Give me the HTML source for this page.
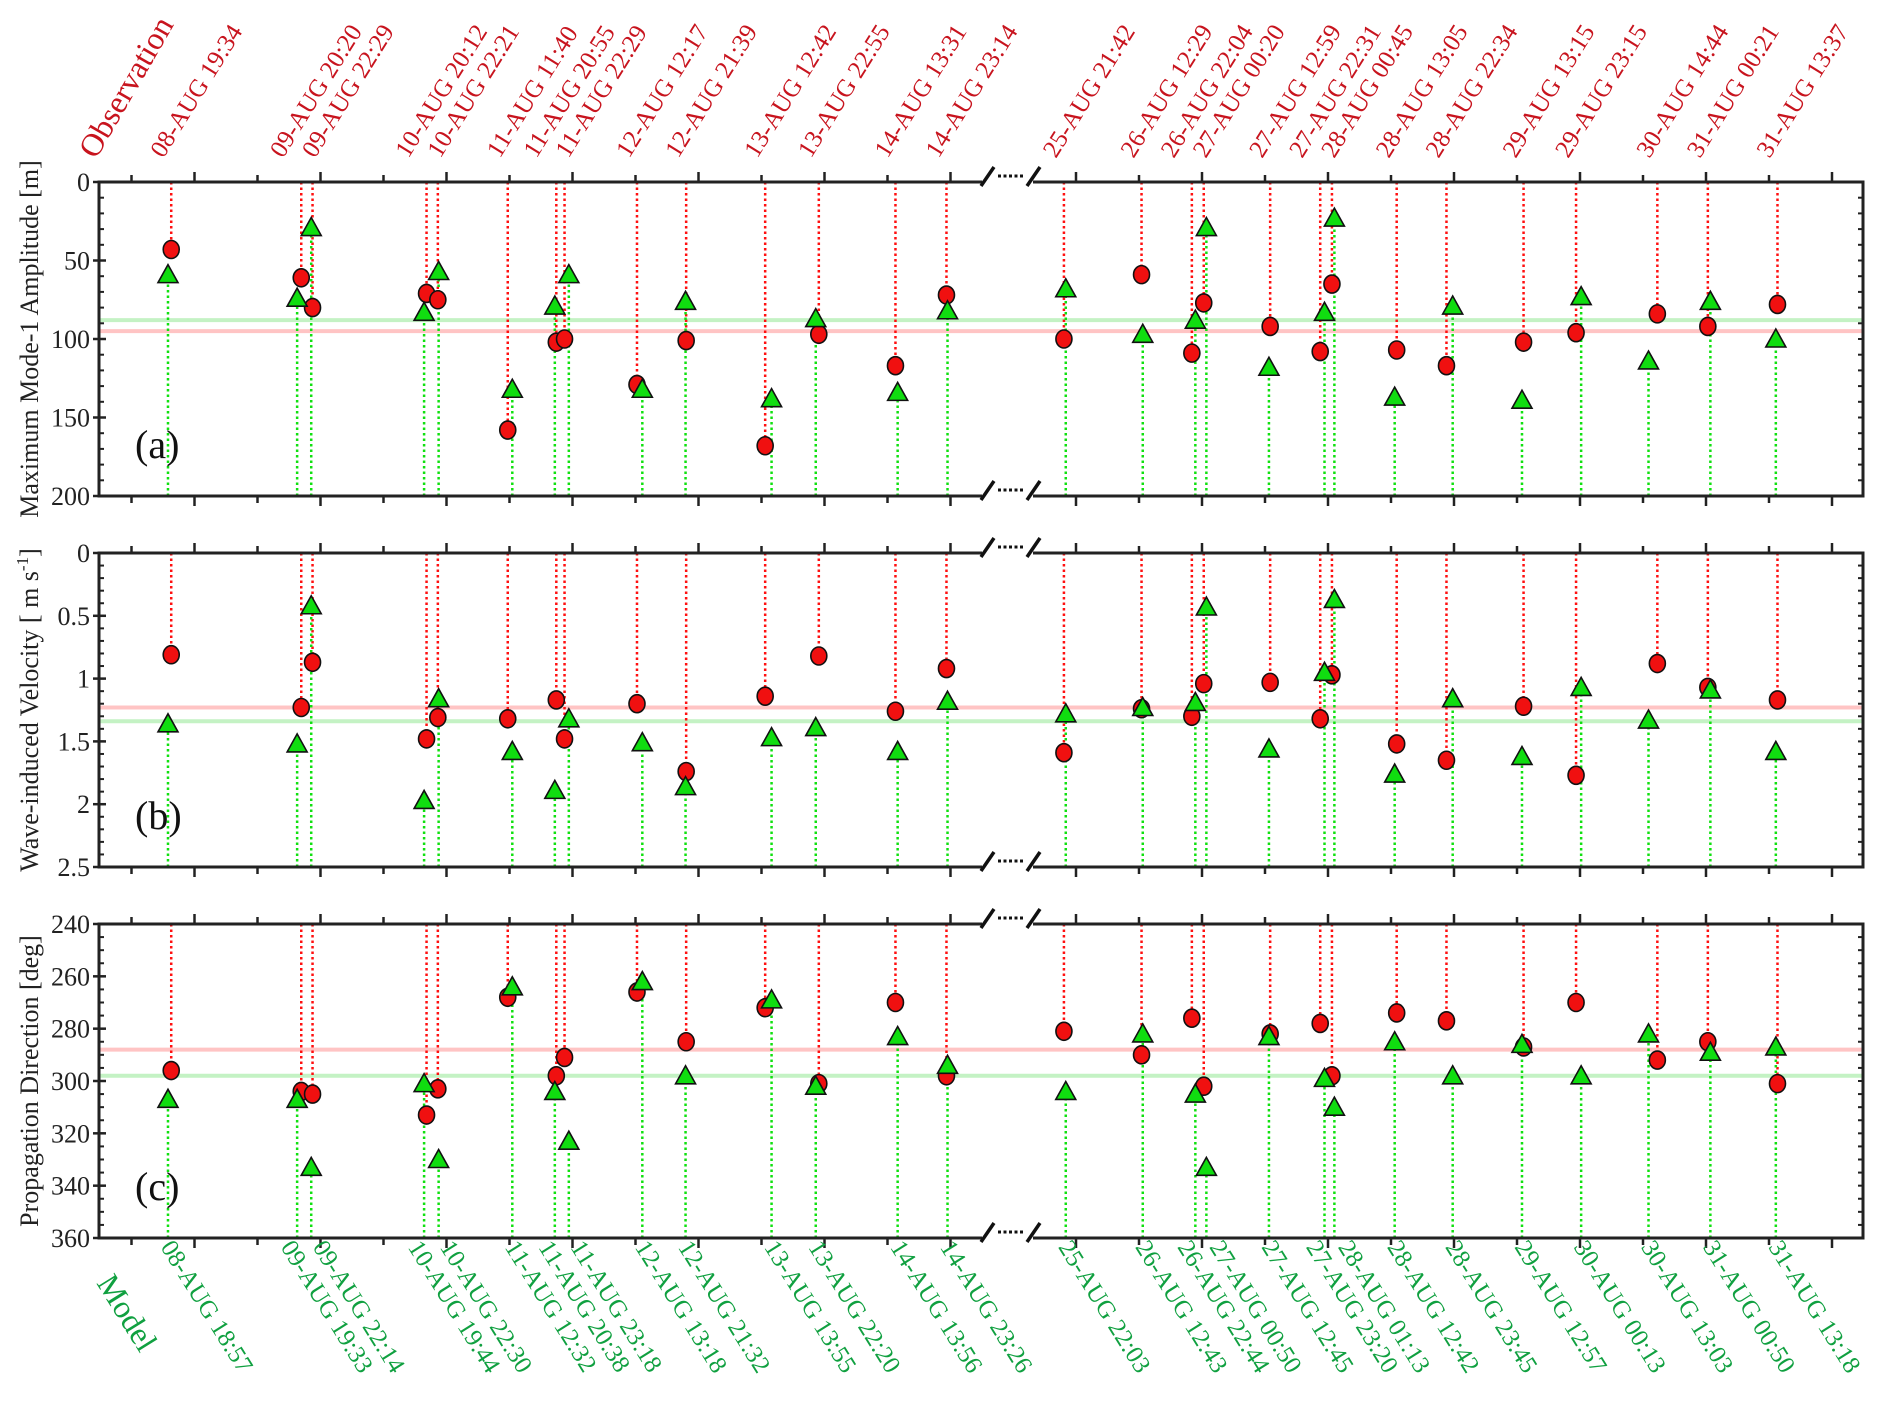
<!DOCTYPE html>
<html><head><meta charset="utf-8"><style>
html,body{margin:0;padding:0;background:#fff}
svg text{font-family:"Liberation Serif",serif}
</style></head><body>
<svg id="chart" width="1892" height="1402" viewBox="0 0 1892 1402" xmlns="http://www.w3.org/2000/svg"></svg>
<script>
const obsTimes=["08 19:34","09 20:20","09 22:29","10 20:12","10 22:21","11 11:40","11 20:55","11 22:29","12 12:17","12 21:39","13 12:42","13 22:55","14 13:31","14 23:14","25 21:42","26 12:29","26 22:04","27 00:20","27 12:59","27 22:31","28 00:45","28 13:05","28 22:34","29 13:15","29 23:15","30 14:44","31 00:21","31 13:37"];
const modTimes=["08 18:57","09 19:33","09 22:14","10 19:44","10 22:30","11 12:32","11 20:38","11 23:18","12 13:18","12 21:32","13 13:55","13 22:20","14 13:56","14 23:26","25 22:03","26 12:43","26 22:44","27 00:50","27 12:45","27 23:20","28 01:13","28 12:42","28 23:45","29 12:57","30 00:13","30 13:03","31 00:50","31 13:18"];
const obsAmp=[43,61,80,71,75,158,102,100,129,101,168,97,117,72,100,59,109,77,92,108,65,107,117,102,96,84,92,78];
const modAmp=[59,74,29,83,57,132,79,59,132,76,138,87,134,82,68,97,88,29,118,83,23,137,79,139,73,114,76,100];
const obsVel=[0.81,1.23,0.87,1.48,1.31,1.32,1.17,1.48,1.20,1.74,1.14,0.82,1.26,0.92,1.59,1.24,1.30,1.04,1.03,1.32,0.97,1.52,1.65,1.22,1.77,0.88,1.07,1.17];
const modVel=[1.36,1.52,0.42,1.97,1.16,1.58,1.89,1.32,1.51,1.86,1.47,1.39,1.58,1.18,1.28,1.23,1.19,0.43,1.56,0.95,0.37,1.76,1.16,1.62,1.07,1.33,1.09,1.58];
const obsDir=[296,304,305,313,303,268,298,291,266,285,272,301,270,298,281,290,276,302,282,278,298,274,277,287,270,292,285,301];
const modDir=[307,307,333,301,330,264,304,323,262,298,269,302,283,294,304,282,305,333,283,299,310,285,298,286,298,282,289,287];
const obsMean=[95,1.23,288];
const modMean=[88,1.34,298];
const yTicks=[[0,50,100,150,200],[0,0.5,1,1.5,2,2.5],[240,260,280,300,320,340,360]];
const yLabels=[["0","50","100","150","200"],["0","0.5","1","1.5","2","2.5"],["240","260","280","300","320","340","360"]];
const svg=document.getElementById('chart');
const NS='http://www.w3.org/2000/svg';
function mk(tag,attrs,parent){const e=document.createElementNS(NS,tag);for(const k in attrs)e.setAttribute(k,attrs[k]);(parent||svg).appendChild(e);return e;}
function tDay(s){const d=parseInt(s.slice(0,2)),h=parseInt(s.slice(3,5)),m=parseInt(s.slice(6,8));return d+(h+m/60)/24;}
function X(t){return t<20?194.5+(t-9)*126:1076+(t-26)*126;}
function labelX(times){
  const xs=times.map(s=>X(tDay(s)));const out=xs.map(x=>x-8);
  for(let i=0;i<xs.length-1;i++){if(xs[i+1]-xs[i]<22){const mid=(xs[i]+xs[i+1])/2-8;out[i]=mid-16;out[i+1]=mid+16;i++;}}
  return out;}
const L=99,R=1863;
const panels=[{top:182,bot:496,min:0,max:200,minor:10,name:"amplitude",title:"Maximum Mode-1 Amplitude [m]",tag:"(a)",obs:obsAmp,mod:modAmp},
{top:553,bot:867,min:0,max:2.5,minor:0.1,name:"velocity",title:"",tag:"(b)",obs:obsVel,mod:modVel},
{top:924,bot:1238,min:240,max:360,minor:5,name:"direction",title:"Propagation Direction [deg]",tag:"(c)",obs:obsDir,mod:modDir}];
panels.forEach((p,pi)=>{
  const g=mk('g',{});
  
  
  const Y=v=>p.top+(v-p.min)/(p.max-p.min)*(p.bot-p.top);
  let ml=mk('line',{x1:L,x2:R,y1:Y(modMean[pi]),y2:Y(modMean[pi]),stroke:'#c4f2c4','stroke-width':4},g);
  
  ml=mk('line',{x1:L,x2:R,y1:Y(obsMean[pi]),y2:Y(obsMean[pi]),stroke:'#ffc4c4','stroke-width':4},g);
  
  obsTimes.forEach((s,i)=>{const x=X(tDay(s));const l=mk('line',{x1:x,x2:x,y1:p.top,y2:Y(p.obs[i]),stroke:'#ff1010','stroke-width':2.5,'stroke-dasharray':'2.5 3'},g);
    });
  modTimes.forEach((s,i)=>{const x=X(tDay(s));const l=mk('line',{x1:x,x2:x,y1:p.bot,y2:Y(p.mod[i]),stroke:'#10e010','stroke-width':2.5,'stroke-dasharray':'2.5 3'},g);
    });
  [p.top,p.bot].forEach(yy=>{
    let a=mk('line',{x1:L,x2:982,y1:yy,y2:yy,stroke:'#222','stroke-width':3},g);
    a=mk('line',{x1:1033,x2:R,y1:yy,y2:yy,stroke:'#222','stroke-width':3},g);
    const b=mk('path',{d:`M981 ${yy+4}L994 ${yy-15}M1027 ${yy+4}L1040 ${yy-15}`,stroke:'#111','stroke-width':3.5,fill:'none'},g);
    
    const d=mk('line',{x1:998,x2:1024,y1:yy-6,y2:yy-6,stroke:'#111','stroke-width':3,'stroke-dasharray':'3 2.5'},g);
    
  });
  let a=mk('line',{x1:L,x2:L,y1:p.top-1.5,y2:p.bot+1.5,stroke:'#222','stroke-width':3},g);
  a=mk('line',{x1:R,x2:R,y1:p.top-1.5,y2:p.bot+1.5,stroke:'#222','stroke-width':3},g);
  const tks=[];for(let t=8.5;t<=15.01;t+=0.5)tks.push(t);for(let t=26;t<=32.01;t+=0.5)tks.push(t);
  tks.forEach(t=>{const x=X(t);const len=Math.abs(t-Math.round(t))<0.01?10:7;
    let k=mk('line',{x1:x,x2:x,y1:p.top,y2:p.top-len,stroke:'#222','stroke-width':2.5},g);
    k=mk('line',{x1:x,x2:x,y1:p.bot,y2:p.bot+len,stroke:'#222','stroke-width':2.5},g);});
  for(let v=p.min;v<=p.max+1e-9;v+=p.minor){const y=Y(v);
    let k=mk('line',{x1:L,x2:L+5,y1:y,y2:y,stroke:'#222','stroke-width':2},g);
    k=mk('line',{x1:R,x2:R-5,y1:y,y2:y,stroke:'#222','stroke-width':2},g);}
  yTicks[pi].forEach((v,i)=>{const y=Y(v);
    let k=mk('line',{x1:L-6,x2:L+7,y1:y,y2:y,stroke:'#222','stroke-width':2.5},g);
    const tx=mk('text',{x:L-9,y:y+9,'text-anchor':'end','font-size':26,fill:'#222'},g);tx.textContent=yLabels[pi][i];
    });
  const cy=(p.top+p.bot)/2;
  const tt=mk('text',{x:0,y:0,transform:`translate(38 ${cy}) rotate(-90)`,'text-anchor':'middle','font-size':26,fill:'#222'},g);
  if(pi===1){tt.innerHTML='Wave-induced Velocity [ m s<tspan dy="-10" font-size="17">-1</tspan><tspan dy="10">]</tspan>';}else tt.textContent=p.title;
  
  const tg=mk('text',{x:135,y:p.bot-38,'font-size':40,fill:'#111'},g);tg.textContent=p.tag;
  
  obsTimes.forEach((s,i)=>{const x=X(tDay(s));const c=mk('ellipse',{cx:x,cy:Y(p.obs[i]),rx:8,ry:9,fill:'#f01010',stroke:'#111','stroke-width':1.6},g);
    });
  modTimes.forEach((s,i)=>{const x=X(tDay(s)),y=Y(p.mod[i]);const t=mk('path',{d:`M${x} ${y-10}L${x+10} ${y+8}L${x-10} ${y+8}Z`,fill:'#10dd10',stroke:'#111','stroke-width':1.6},g);
    });
});
const obsLX=labelX(obsTimes),modLX=labelX(modTimes);
obsTimes.forEach((s,i)=>{const t=mk('text',{transform:`translate(${obsLX[i]} 159) rotate(-58)`,'font-size':25,fill:'#c8141e'});
  t.textContent=s.slice(0,2)+'-AUG '+s.slice(3);
  });
modTimes.forEach((s,i)=>{const t=mk('text',{transform:`translate(${modLX[i]} 1247) rotate(58)`,'font-size':25,fill:'#10a040'});
  t.textContent=s.slice(0,2)+'-AUG '+s.slice(3);
  });
let o=mk('text',{transform:'translate(96 160) rotate(-60)','font-size':32,fill:'#c8141e'});o.textContent='Observation';

o=mk('text',{transform:'translate(96 1283) rotate(58)','font-size':32,fill:'#10a040'});o.textContent='Model';

</script>
</body></html>
